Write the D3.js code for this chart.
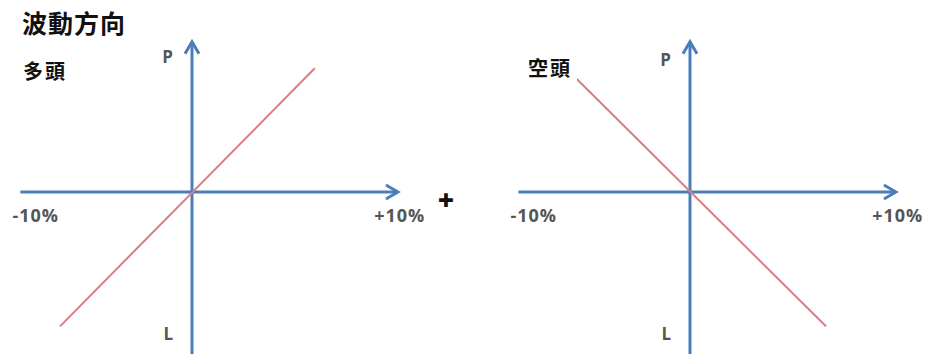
<!DOCTYPE html>
<html>
<head>
<meta charset="utf-8">
<script src="https://cdn.jsdelivr.net/npm/d3@7"></script>
<style>
  body { margin: 0; background: #fff; }
  svg { display: block; }
</style>
</head>
<body>
<svg></svg>
<script>
var width = 926;
var height = 354;

// chart content
var chartTitle = "波動方向";
var panelTitles = ["多頭", "空頭"];
var xTickLabels = ["-10%", "+10%"];
var yEndLabels = ["P", "L"];
var joinSign = "+";

// payoff lines, % move of price vs. profit/loss
var longMove = [-10, 9.3];
var longPnl = [-10.1, 9.3];
var shortMove = [-9.4, 10.3];
var shortPnl = [9.3, -10.1];

var blue = "#4a7ebb";
var red = "#dc7c80";
var labelFont = "'Open Sans', 'DejaVu Sans', sans-serif";
var cjkFont = "'Noto Sans CJK TC', 'Noto Sans CJK SC', sans-serif";

var svg = d3.select("svg")
            .attr("width", width)
            .attr("height", height);

svg.append("text")
    .attr("x", 22)
    .attr("y", 33)
    .attr("font-family", cjkFont)
    .attr("font-size", 25)
    .attr("font-weight", 700)
    .attr("letter-spacing", 1)
    .attr("fill", "#111")
    .text(chartTitle);

// one panel per position: centre of the axes and its own scales
var panels = [
  { title: panelTitles[0], cx: 192, titleX: 23, titleY: 79, pY: 63, box: false,
    line: longMove.map((m, i) => [m, longPnl[i]]) },
  { title: panelTitles[1], cx: 690, titleX: 528, titleY: 76, pY: 66, box: true,
    line: shortMove.map((m, i) => [m, shortPnl[i]]) }
];

var cy = 192;

panels.forEach(function(p) {
  var xScale = d3.scaleLinear()
                 .domain([-10, 10])
                 .range([p.cx - 132, p.cx + 132]);
  var yScale = d3.scaleLinear()
                 .domain([-10, 10])
                 .range([cy + 133, cy - 133]);

  var g = svg.append("g");

  // horizontal axis with arrow
  var xEnd = xScale(15.6);
  g.append("line")
      .attr("x1", xScale(-13))
      .attr("x2", xEnd - 1)
      .attr("y1", yScale(0))
      .attr("y2", yScale(0))
      .attr("stroke", blue)
      .attr("stroke-width", 3);
  g.append("path")
      .attr("d", d3.line()([[xEnd - 12, yScale(0) - 7], [xEnd, yScale(0)], [xEnd - 12, yScale(0) + 7]]))
      .attr("fill", "none")
      .attr("stroke", blue)
      .attr("stroke-width", 3);

  // vertical axis with arrow
  var yTop = yScale(11.3);
  g.append("line")
      .attr("x1", xScale(0))
      .attr("x2", xScale(0))
      .attr("y1", yScale(-13))
      .attr("y2", yTop + 1)
      .attr("stroke", blue)
      .attr("stroke-width", 3);
  g.append("path")
      .attr("d", d3.line()([[xScale(0) - 7, yTop + 12], [xScale(0), yTop], [xScale(0) + 7, yTop + 12]]))
      .attr("fill", "none")
      .attr("stroke", blue)
      .attr("stroke-width", 3);

  // payoff line
  g.append("path")
      .datum(p.line)
      .attr("d", d3.line().x(d => xScale(d[0])).y(d => yScale(d[1])))
      .attr("fill", "none")
      .attr("stroke", red)
      .attr("stroke-width", 2);

  // tick labels
  g.selectAll(".xlab")
    .data(xTickLabels)
    .enter()
    .append("text")
      .attr("x", (d, i) => i === 0 ? xScale(-13.6) : xScale(13.8))
      .attr("y", 222)
      .attr("font-family", labelFont)
      .attr("font-size", 18)
      .attr("font-weight", 700)
      .attr("letter-spacing", 1)
      .attr("fill", "#555")
      .text(d => d);

  g.selectAll(".ylab")
    .data(yEndLabels)
    .enter()
    .append("text")
      .attr("x", xScale(0) - 19)
      .attr("y", (d, i) => i === 0 ? p.pY : 340)
      .attr("font-family", labelFont)
      .attr("font-size", 17)
      .attr("font-weight", 700)
      .attr("text-anchor", "end")
      .attr("fill", "#555")
      .text(d => d);

  // the short label sits on a white box that hides the line's tip
  if (p.box) {
    g.append("rect")
        .attr("x", p.titleX - 22)
        .attr("y", 55)
        .attr("width", 71)
        .attr("height", 27)
        .attr("fill", "#fff");
  }

  g.append("text")
      .attr("x", p.titleX)
      .attr("y", p.titleY)
      .attr("font-family", cjkFont)
      .attr("font-size", 20)
      .attr("font-weight", 700)
      .attr("letter-spacing", 2)
      .attr("fill", "#111")
      .text(p.title);
});

svg.append("text")
    .attr("x", 446)
    .attr("y", 210)
    .attr("font-family", labelFont)
    .attr("font-size", 28)
    .attr("font-weight", 800)
    .attr("text-anchor", "middle")
    .attr("fill", "#111")
    .text(joinSign);
</script>
</body>
</html>
